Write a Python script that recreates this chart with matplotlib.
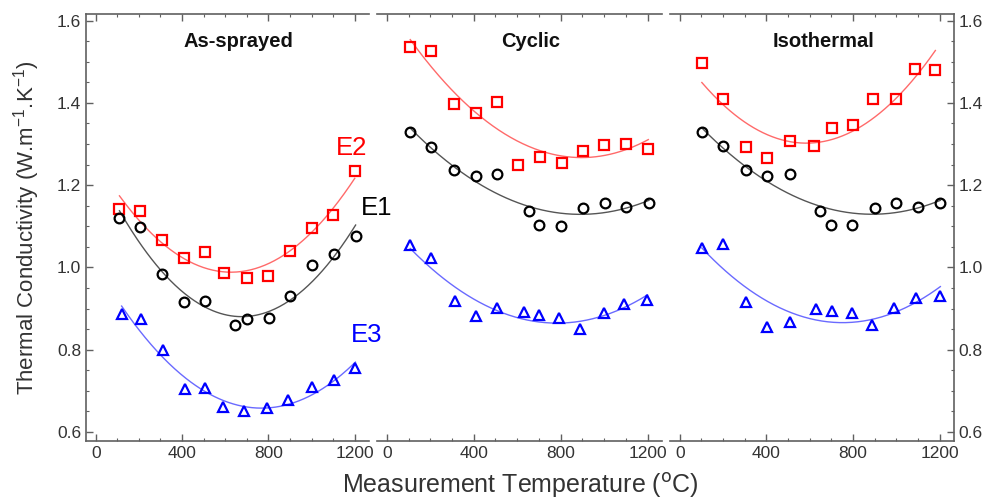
import numpy as np
import matplotlib
matplotlib.use("Agg")
import matplotlib.pyplot as plt
from matplotlib.ticker import MultipleLocator

plt.rcParams['font.family'] = ['Liberation Sans', 'DejaVu Sans']

# ---------------- data ----------------
panels = ["As-sprayed", "Cyclic", "Isothermal"]

# As-sprayed
as_T = [110, 205, 305, 410, 505, 595, 700, 800, 900, 1000, 1100, 1200]
as_E2 = [1.141, 1.137, 1.067, 1.022, 1.037, 0.986, 0.975, 0.978, 1.039, 1.097, 1.128, 1.235]
as_E1_T = [110, 205, 305, 410, 505, 646, 703, 803, 900, 1003, 1103, 1204]
as_E1 = [1.120, 1.099, 0.984, 0.917, 0.919, 0.860, 0.874, 0.878, 0.931, 1.006, 1.033, 1.077]
as_E3_T = [120, 208, 312, 412, 508, 589, 689, 792, 892, 1000, 1103, 1203]
as_E3 = [0.886, 0.874, 0.798, 0.704, 0.706, 0.661, 0.652, 0.658, 0.678, 0.709, 0.726, 0.756]

# Cyclic
cy_T = [108, 205, 310, 410, 506, 603, 706, 806, 901, 1001, 1102, 1203]
cy_E2 = [1.535, 1.526, 1.397, 1.376, 1.401, 1.249, 1.269, 1.253, 1.284, 1.297, 1.301, 1.289]
cy_E1_T = [108, 205, 310, 410, 506, 652, 702, 801, 901, 1003, 1102, 1206]
cy_E1 = [1.328, 1.293, 1.236, 1.222, 1.227, 1.136, 1.103, 1.101, 1.145, 1.157, 1.146, 1.157]
cy_E3_T = [108, 205, 312, 410, 506, 632, 702, 793, 887, 998, 1091, 1199]
cy_E3 = [1.055, 1.024, 0.919, 0.882, 0.902, 0.891, 0.884, 0.876, 0.850, 0.889, 0.911, 0.921]

# Isothermal
is_T = [102, 201, 306, 404, 507, 620, 701, 801, 894, 998, 1087, 1180]
is_E2 = [1.496, 1.409, 1.293, 1.267, 1.307, 1.294, 1.340, 1.346, 1.410, 1.409, 1.482, 1.480]
is_E1_T = [102, 201, 306, 404, 507, 646, 697, 796, 902, 999, 1100, 1203]
is_E1 = [1.328, 1.294, 1.236, 1.222, 1.227, 1.136, 1.103, 1.102, 1.145, 1.157, 1.146, 1.157]
is_E3_T = [102, 201, 306, 404, 507, 628, 701, 793, 886, 991, 1092, 1203]
is_E3 = [1.048, 1.057, 0.915, 0.855, 0.868, 0.898, 0.894, 0.890, 0.860, 0.901, 0.925, 0.931]

x_ticks = [0, 400, 800, 1200]
y_ticks = [0.6, 0.8, 1.0, 1.2, 1.4, 1.6]

panel_data = [
    [(as_T, as_E2), (as_E1_T, as_E1), (as_E3_T, as_E3)],
    [(cy_T, cy_E2), (cy_E1_T, cy_E1), (cy_E3_T, cy_E3)],
    [(is_T, is_E2), (is_E1_T, is_E1), (is_E3_T, is_E3)],
]

# ---------------- styling ----------------
W, H = 987, 498
fig = plt.figure(figsize=(W / 100, H / 100), dpi=100)

ax_px = [(86, 369), (377, 662), (670, 954)]
top_px, bot_px = 14, 441

mk_colors = ['#ff0000', '#000000', '#0000ff']
ln_colors = ['#ff6a6a', '#555555', '#6a6aff']
markers = ['s', 'o', '^']
spine_c = '#606060'
text_c = '#333333'

axes = []
for i, (l, r) in enumerate(ax_px):
    ax = fig.add_axes([l / W, 1 - bot_px / H, (r - l) / W, (bot_px - top_px) / H])
    axes.append(ax)
    for j, (T, v) in enumerate(panel_data[i]):
        T = np.asarray(T, float)
        v = np.asarray(v, float)
        coef = np.polyfit(T, v, 2)
        tt = np.linspace(T.min(), T.max(), 200)
        ax.plot(tt, np.polyval(coef, tt), color=ln_colors[j], lw=1.0, zorder=2)
        ax.plot(T, v, linestyle='none', marker=markers[j], ms=7 if j != 2 else 7.5,
                mfc='none', mec=mk_colors[j], mew=1.6, zorder=3)
    ax.set_xlim(-45, 1266)
    ax.set_ylim(0.578, 1.616)
    ax.set_xticks(x_ticks)
    ax.set_xticklabels([str(t) for t in x_ticks])
    ax.xaxis.set_minor_locator(MultipleLocator(100))
    ax.set_yticks(y_ticks)
    ax.yaxis.set_minor_locator(MultipleLocator(0.05))
    ax.tick_params(axis='both', which='both', direction='in', colors=spine_c,
                   labelcolor=text_c, labelsize=12.5, top=True, bottom=True)
    ax.tick_params(which='major', length=5, width=1)
    ax.tick_params(which='minor', length=2.5, width=0.8)
    for s in ax.spines.values():
        s.set_color(spine_c)
        s.set_linewidth(1.2)
    ax.tick_params(axis='x', which='both', labeltop=False)
    ax.text(0.54, 0.935, panels[i], transform=ax.transAxes, ha='center', va='center',
            fontsize=14.5, fontweight='bold', color='#111111')
    if i == 0:
        ax.spines['right'].set_visible(False)
        ax.tick_params(axis='y', which='both', left=True, right=False, labelleft=True, labelright=False)
        ax.set_yticklabels(['%.1f' % t for t in y_ticks])
    elif i == 1:
        ax.spines['right'].set_visible(False)
        ax.spines['left'].set_visible(False)
        ax.tick_params(axis='y', which='both', left=False, right=False, labelleft=False, labelright=False)
    else:
        ax.spines['left'].set_visible(False)
        ax.tick_params(axis='y', which='both', left=False, right=True, labelleft=False, labelright=True)
        ax.set_yticklabels(['%.1f' % t for t in y_ticks])

# series labels
fig.text(352 / W, 1 - 148 / H, 'E2', color='#ff0000', fontsize=18.5, ha='center', va='center')
fig.text(377 / W, 1 - 208 / H, 'E1', color='#000000', fontsize=18.5, ha='center', va='center')
fig.text(367 / W, 1 - 335 / H, 'E3', color='#0000ff', fontsize=18.5, ha='center', va='center')

fig.text(27 / W, 1 - 228 / H, 'Thermal Conductivity (W.m$^{\\mathregular{-1}}$.K$^{\\mathregular{-1}}$)',
         rotation=90, ha='center', va='center', fontsize=16, color=text_c)
fig.text(520 / W, 1 - 485 / H, 'Measurement Temperature ($^{\\mathrm{o}}$C)',
         ha='center', va='center', fontsize=18, color=text_c)

fig.savefig('out.png', dpi=100)
